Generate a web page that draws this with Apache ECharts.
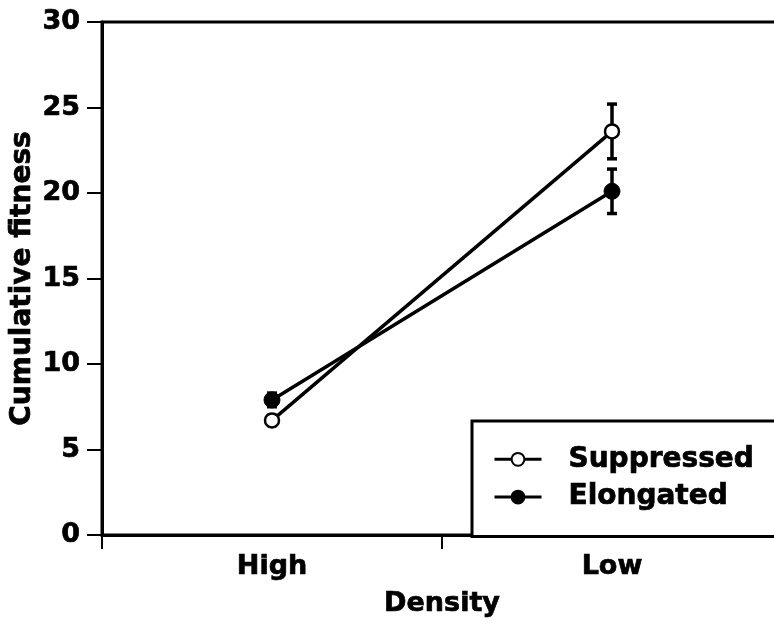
<!DOCTYPE html>
<html>
<head>
<meta charset="utf-8">
<script src="https://cdn.jsdelivr.net/npm/echarts@6/dist/echarts.min.js"></script>
<style>html,body{margin:0;padding:0;background:#fff}#c{width:774px;height:628px}</style>
</head>
<body>
<div id="c"></div>
<script>
const categories = ['High', 'Low'];
const yTicks = [0, 5, 10, 15, 20, 25, 30];
const suppressed = [6.7, 23.6];
const suppressedErr = [0.3, 1.6];
const elongated = [7.9, 20.1];
const elongatedErr = [0.4, 1.3];

const FONT = 'DejaVu Sans';
const HEAVY = {textBorderColor: '#000', textBorderWidth: 0.7};
const chart = echarts.init(document.getElementById('c'), null, {renderer: 'canvas'});

function errData(vals, errs) {
  return vals.map((v, i) => [i, v - errs[i], v + errs[i]]);
}
function errRender(params, api) {
  const lo = api.coord([api.value(0), api.value(1)]);
  const hi = api.coord([api.value(0), api.value(2)]);
  const w = 5;
  const st = {stroke: '#000', lineWidth: 3.5};
  return {type: 'group', children: [
    {type: 'line', shape: {x1: lo[0], y1: lo[1], x2: hi[0], y2: hi[1]}, style: st},
    {type: 'line', shape: {x1: lo[0] - w, y1: lo[1], x2: lo[0] + w, y2: lo[1]}, style: st},
    {type: 'line', shape: {x1: hi[0] - w, y1: hi[1], x2: hi[0] + w, y2: hi[1]}, style: st}
  ]};
}

chart.setOption({
  backgroundColor: '#fff',
  animation: false,
  grid: {left: 102, top: 22, width: 680, height: 513, containLabel: false, outerBoundsMode: 'none',
         show: true, borderColor: '#000', borderWidth: 3, backgroundColor: 'transparent'},
  xAxis: {
    type: 'category', data: categories, boundaryGap: true,
    name: 'Density', nameLocation: 'middle', nameGap: 55, nameMoveOverlap: false,
    nameTextStyle: Object.assign({fontFamily: FONT, fontWeight: 'bold', fontSize: 27, color: '#000'}, HEAVY),
    axisLine: {lineStyle: {color: '#000', width: 3}},
    axisTick: {show: true, length: 14, lineStyle: {color: '#000', width: 2}},
    axisLabel: Object.assign({fontFamily: FONT, fontWeight: 'bold', fontSize: 27, color: '#000', margin: 18}, HEAVY),
    splitLine: {show: false}
  },
  yAxis: {
    type: 'value', min: yTicks[0], max: yTicks[yTicks.length - 1], interval: 5,
    name: 'Cumulative fitness', nameLocation: 'middle', nameGap: 65, nameMoveOverlap: false,
    nameTextStyle: Object.assign({fontFamily: FONT, fontWeight: 'bold', fontSize: 28, color: '#000'}, HEAVY),
    axisLine: {show: true, lineStyle: {color: '#000', width: 3}},
    axisTick: {show: true, length: 15, lineStyle: {color: '#000', width: 2}},
    axisLabel: Object.assign({fontFamily: FONT, fontWeight: 'bold', fontSize: 27, color: '#000', margin: 22}, HEAVY),
    splitLine: {show: false}
  },
  legend: {
    orient: 'vertical', left: 472, top: 421,
    padding: [24, 80, 25, 21],
    itemWidth: 47, itemHeight: 16, itemGap: 9,
    borderColor: '#000', borderWidth: 3, backgroundColor: '#fff',
    lineStyle: {width: 3},
    textStyle: Object.assign({fontFamily: FONT, fontWeight: 'bold', fontSize: 28, color: '#000', lineHeight: 28, padding: [0, 0, 0, 22]}, HEAVY),
    data: ['Suppressed', 'Elongated']
  },
  series: [
    {type: 'custom', name: 'errS', data: errData(suppressed, suppressedErr), renderItem: errRender, z: 1, silent: true},
    {type: 'custom', name: 'errE', data: errData(elongated, elongatedErr), renderItem: errRender, z: 1, silent: true},
    {
      type: 'line', name: 'Suppressed', data: suppressed, z: 3,
      symbol: 'circle', symbolSize: 14,
      lineStyle: {color: '#000', width: 3.5},
      itemStyle: {color: '#fff', borderColor: '#000', borderWidth: 2.5}
    },
    {
      type: 'line', name: 'Elongated', data: elongated, z: 3,
      symbol: 'circle', symbolSize: 16,
      lineStyle: {color: '#000', width: 3.5},
      itemStyle: {color: '#000', borderColor: '#000', borderWidth: 1}
    }
  ]
});
</script>
</body>
</html>
